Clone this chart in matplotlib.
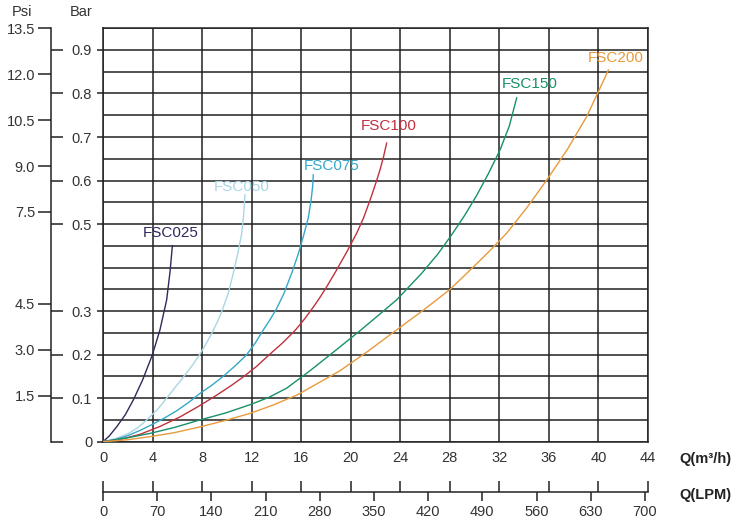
import matplotlib
matplotlib.use("Agg")
import matplotlib.pyplot as plt
import numpy as np

plt.rcParams['font.family'] = ['Liberation Sans', 'DejaVu Sans']

# pump curves: flow Q (m3/h) vs pressure (bar)
fsc025_q = [0, 0.5, 1.10, 1.8, 2.45, 3.2, 3.98, 4.60, 5.14, 5.41, 5.60]
fsc025_p = [0, 0.013, 0.034, 0.062, 0.096, 0.142, 0.199, 0.257, 0.326, 0.390, 0.450]

fsc050_q = [0, 1.0, 2.0, 2.8, 3.53, 4.4, 5.14, 5.8, 6.5, 7.2, 7.8, 8.3, 8.8, 9.2,
            9.6, 10.1, 10.52, 10.9, 11.2, 11.35, 11.46]
fsc050_p = [0, 0.007, 0.018, 0.032, 0.050, 0.074, 0.100, 0.124, 0.149, 0.175, 0.200,
            0.224, 0.250, 0.273, 0.300, 0.340, 0.387, 0.435, 0.479, 0.520, 0.567]

fsc075_q = [0, 1, 2, 3, 4, 5, 6, 7, 7.83, 8.8, 9.7, 10.7, 11.6, 12.3, 12.9, 13.5,
            14.0, 14.6, 15.23, 15.75, 16.17, 16.58, 16.8, 16.92, 16.98]
fsc075_p = [0, 0.005, 0.014, 0.026, 0.040, 0.055, 0.072, 0.092, 0.111, 0.130, 0.150,
            0.175, 0.200, 0.227, 0.255, 0.281, 0.305, 0.340, 0.387, 0.430, 0.471,
            0.515, 0.555, 0.585, 0.613]

fsc100_q = [0, 1.5, 3, 4.6, 6.22, 7.7, 9.18, 10.3, 11.33, 12.4, 13.35, 14.5, 15.55,
            16.3, 17.0, 17.55, 18.06, 18.87, 19.7, 20.48, 21.02, 21.56, 22.0, 22.36,
            22.65, 22.9]
fsc100_p = [0, 0.006, 0.017, 0.035, 0.057, 0.081, 0.107, 0.128, 0.149, 0.173, 0.198,
            0.227, 0.257, 0.283, 0.310, 0.333, 0.356, 0.395, 0.437, 0.479, 0.513,
            0.555, 0.592, 0.624, 0.655, 0.686]

fsc150_q = [0, 2, 3.79, 5.8, 7.83, 9.9, 11.87, 13.4, 14.83, 16.71, 18.7, 20.75, 22.3,
            23.71, 25.73, 27.0, 28.02, 29.2, 30.17, 31.1, 32.05, 32.8, 33.40]
fsc150_p = [0, 0.009, 0.019, 0.033, 0.050, 0.066, 0.085, 0.102, 0.123, 0.163, 0.208,
            0.255, 0.292, 0.326, 0.387, 0.430, 0.470, 0.520, 0.566, 0.615, 0.670,
            0.725, 0.790]

fsc200_q = [0, 2, 3.79, 5.8, 7.83, 9.9, 11.87, 13.8, 15.64, 17.4, 19.13, 21.4, 23.71,
            25.9, 28.02, 29.63, 31.1, 32.59, 34.2, 35.82, 37.5, 39.05, 39.99, 40.8]
fsc200_p = [0, 0.0045, 0.0115, 0.021, 0.034, 0.049, 0.065, 0.085, 0.107, 0.135, 0.163,
            0.208, 0.257, 0.303, 0.350, 0.394, 0.435, 0.479, 0.537, 0.601, 0.672,
            0.747, 0.804, 0.854]

names = ["FSC025", "FSC050", "FSC075", "FSC100", "FSC150", "FSC200"]
colors = ["#2e2a5c", "#a9d6e5", "#35a9c9", "#c0303e", "#17906a", "#e89a3c"]
# label offset from curve end, in pixels (right, up)
label_off = [(-2, 13), (-3, 8), (18, 9), (2, 17), (13, 14), (7, 12)]

q_ticks = np.arange(0, 45, 4)
bar_ticks = [0, 0.1, 0.2, 0.3, 0.5, 0.6, 0.7, 0.8, 0.9]
bar_labels = ["0", "0.1", "0.2", "0.3", "0.5", "0.6", "0.7", "0.8", "0.9"]
psi_ticks = [1.5, 3.0, 4.5, 7.5, 9.0, 10.5, 12.0, 13.5]
lpm_ticks = np.arange(0, 701, 70)

tc = "#333333"
W, H = 741, 531
fig = plt.figure(figsize=(W / 100, H / 100), dpi=100)
x0, x1, y0, y1 = 103, 648, 441.7, 28.2
ax = fig.add_axes([x0 / W, 1 - y0 / H, (x1 - x0) / W, (y0 - y1) / H])

series = [(fsc025_q, fsc025_p), (fsc050_q, fsc050_p), (fsc075_q, fsc075_p),
          (fsc100_q, fsc100_p), (fsc150_q, fsc150_p), (fsc200_q, fsc200_p)]
for (q, p), name, c, off in zip(series, names, colors, label_off):
    ax.plot(q, p, color=c, lw=1.0, zorder=3, solid_joinstyle="round")
    ax.annotate(name, (q[-1], p[-1]), xytext=(off[0] * 0.72, off[1] * 0.72),
                textcoords="offset points", ha="center", va="center",
                color=c, fontsize=11)

ax.set_xlim(0, 44)
ax.set_ylim(0, 0.95)
for v in q_ticks:
    ax.axvline(v, color="#222222", lw=1.1, zorder=1)
for v in np.arange(0, 0.96, 0.05):
    ax.axhline(v, color="#222222", lw=1.1, zorder=1)
for s in ax.spines.values():
    s.set_color("#222222")
    s.set_linewidth(1.1)

ax.set_xticks(q_ticks)
ax.tick_params(axis="x", length=0, pad=7, labelsize=10.5, labelcolor=tc)
ax.set_yticks(bar_ticks)
ax.set_yticklabels(bar_labels)
ax.tick_params(axis="y", direction="out", length=4.3, width=1.1, color="#222222",
               pad=3.5, labelsize=10.5, labelcolor=tc)

# Psi axis on the far left
ax2 = ax.twinx()
ax2.set_ylim(0, 13.5)
ax2.spines["left"].set_visible(True)
ax2.spines["left"].set_position(("outward", 37.4))
ax2.spines["left"].set_color("#222222")
ax2.spines["left"].set_linewidth(1.1)
for k in ["right", "top", "bottom"]:
    ax2.spines[k].set_visible(False)
ax2.yaxis.set_ticks_position("left")
ax2.yaxis.set_label_position("left")
ax2.yaxis.remove_overlapping_locs = False
ax2.set_yticks(psi_ticks)
ax2.set_yticklabels(["%.1f" % v for v in psi_ticks])
ax2.set_yticks([b * 13.5 / 0.95 for b in bar_ticks], minor=True)
ax2.tick_params(axis="y", which="major", direction="out", length=9.4, width=1.1,
                color="#222222", pad=2, labelsize=10.5, labelcolor=tc)
ax2.tick_params(axis="y", which="minor", direction="in", length=8.6, width=1.1,
                color="#222222")

# LPM axis below
ly = 491.7
ax3 = fig.add_axes([x0 / W, 1 - ly / H, (x1 - x0) / W, 0.0001])
ax3.set_xlim(0, 704)
for k in ["left", "right", "top"]:
    ax3.spines[k].set_visible(False)
ax3.spines["bottom"].set_color("#222222")
ax3.spines["bottom"].set_linewidth(1.1)
ax3.set_yticks([])
ax3.xaxis.remove_overlapping_locs = False
ax3.set_xticks(lpm_ticks)
ax3.set_xticks(q_ticks * 16, minor=True)
ax3.tick_params(axis="x", which="major", direction="out", length=6.5, width=1.1,
                color="#222222", pad=3, labelsize=10.5, labelcolor=tc)
ax3.tick_params(axis="x", which="minor", direction="in", length=8, width=1.1,
                color="#222222")
ax3.patch.set_visible(False)

fig.text(22 / W, 1 - 12 / H, "Psi", ha="center", va="center", fontsize=10.5, color=tc)
fig.text(81 / W, 1 - 12 / H, "Bar", ha="center", va="center", fontsize=10.5, color=tc)
fig.text(705 / W, 1 - 459 / H, "Q(m³/h)", ha="center", va="center", fontsize=10.5,
         fontweight="bold", color="#222222")
fig.text(705 / W, 1 - 495 / H, "Q(LPM)", ha="center", va="center", fontsize=10.5,
         fontweight="bold", color="#222222")

fig.savefig("out.png", dpi=100)
plt.close(fig)
